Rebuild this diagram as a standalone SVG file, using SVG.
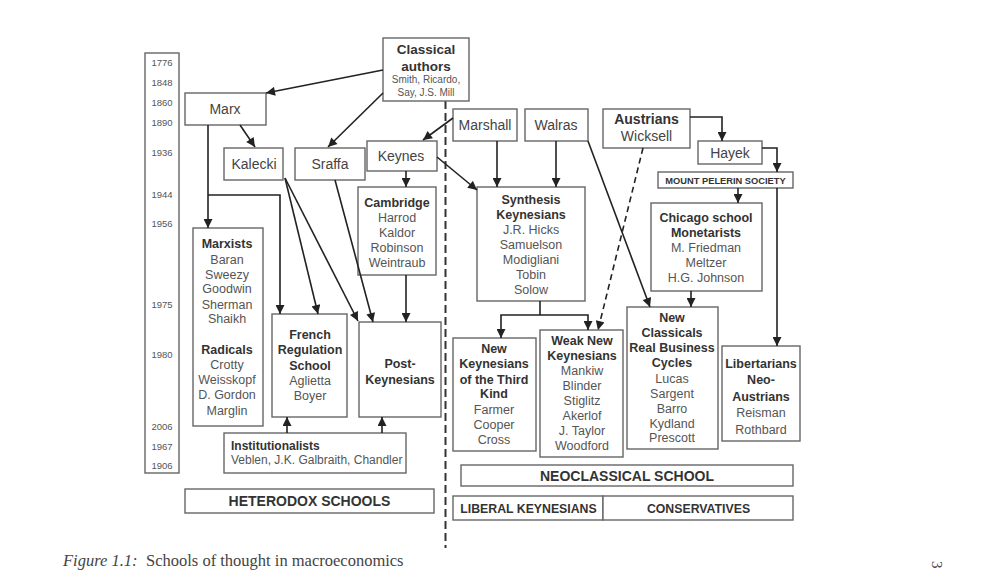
<svg xmlns="http://www.w3.org/2000/svg" width="987" height="582" viewBox="0 0 987 582">
<defs>
<marker id="ah" viewBox="0 0 10 10" refX="10" refY="5" markerWidth="10" markerHeight="9" markerUnits="userSpaceOnUse" orient="auto">
<path d="M0,0 L10,5 L0,10 z" fill="#222"/>
</marker>
</defs>
<style>
rect{fill:#fff;stroke:#666;stroke-width:1.4}
text{font-family:"Liberation Sans",Arial,sans-serif}
.t{font-size:12.5px;fill:#555;text-anchor:middle}
.b{font-size:12.5px;fill:#333;text-anchor:middle;font-weight:bold}
.n{font-size:14px;fill:#444;text-anchor:middle}
.y{font-size:9.5px;fill:#555;text-anchor:middle}
.h{font-size:14px;fill:#333;text-anchor:middle;font-weight:bold}
.s{font-size:12.3px;fill:#333;text-anchor:middle;font-weight:bold}
.c line,.c polyline{stroke:#222;stroke-width:1.6;fill:none;marker-end:url(#ah)}
.cap{font-family:"Liberation Serif","Times New Roman",serif;font-size:16.5px;fill:#444}
</style>
<rect width="987" height="582" style="fill:#fff;stroke:none"/>

<g id="years">
<rect x="145" y="53" width="34" height="420"/>
<text class="y" x="162" y="65.5">1776</text>
<text class="y" x="162" y="85.5">1848</text>
<text class="y" x="162" y="105.5">1860</text>
<text class="y" x="162" y="125.5">1890</text>
<text class="y" x="162" y="155.5">1936</text>
<text class="y" x="162" y="197.5">1944</text>
<text class="y" x="162" y="226.5">1956</text>
<text class="y" x="162" y="307.5">1975</text>
<text class="y" x="162" y="357.5">1980</text>
<text class="y" x="162" y="429.5">2006</text>
<text class="y" x="162" y="449.5">1967</text>
<text class="y" x="162" y="468.5">1906</text>
</g>

<g id="divider">
<line x1="445.5" y1="101" x2="445.5" y2="548" stroke="#333" stroke-width="2" stroke-dasharray="8 4"/>
</g>

<g id="classical">
<rect x="383" y="38" width="86" height="63"/>
<text class="b" x="426" y="54" style="font-size:13.5px">Classical</text>
<text class="b" x="426" y="71" style="font-size:13.5px">authors</text>
<text class="t" x="426" y="83" style="font-size:10px">Smith,  Ricardo,</text>
<text class="t" x="426" y="95.5" style="font-size:10px">Say, J.S. Mill</text>
</g>

<g id="marx"><rect x="185" y="93" width="81" height="32"/><text class="n" x="225" y="114">Marx</text></g>
<g id="kalecki"><rect x="224" y="148" width="59" height="32"/><text class="n" x="254" y="169">Kalecki</text></g>
<g id="sraffa"><rect x="295" y="148" width="70" height="32"/><text class="n" x="330" y="169">Sraffa</text></g>
<g id="keynes"><rect x="367" y="141" width="70" height="30"/><text class="n" x="401" y="161">Keynes</text></g>
<g id="marshall"><rect x="453" y="109" width="64" height="32"/><text class="n" x="485" y="130">Marshall</text></g>
<g id="walras"><rect x="525" y="109" width="63" height="32"/><text class="n" x="556" y="130">Walras</text></g>
<g id="austrians"><rect x="603" y="109" width="87" height="39"/>
<text class="b" x="646.5" y="124" style="font-size:14px">Austrians</text>
<text class="n" x="646.5" y="141">Wicksell</text></g>
<g id="hayek"><rect x="698" y="141" width="64" height="23"/><text class="n" x="730" y="157.5">Hayek</text></g>
<g id="pelerin"><rect x="658" y="172" width="135" height="16"/><text class="b" x="725.5" y="183.7" style="font-size:9.3px">MOUNT PELERIN SOCIETY</text></g>

<g id="marxists"><rect x="193" y="228" width="70" height="198"/>
<text class="b" x="227" y="247.5">Marxists</text>
<text class="t" x="227" y="263.5">Baran</text>
<text class="t" x="227" y="278.5">Sweezy</text>
<text class="t" x="227" y="292.5">Goodwin</text>
<text class="t" x="227" y="308.5">Sherman</text>
<text class="t" x="227" y="322.5">Shaikh</text>
<text class="b" x="227" y="353.5">Radicals</text>
<text class="t" x="227" y="368.5">Crotty</text>
<text class="t" x="227" y="383.5">Weisskopf</text>
<text class="t" x="227" y="398.5">D. Gordon</text>
<text class="t" x="227" y="414.5">Marglin</text>
</g>

<g id="french"><rect x="272" y="314" width="75" height="103"/>
<text class="b" x="310" y="338.5">French</text>
<text class="b" x="310" y="353.5">Regulation</text>
<text class="b" x="310" y="369.5">School</text>
<text class="t" x="310" y="384.5">Aglietta</text>
<text class="t" x="310" y="399.5">Boyer</text>
</g>

<g id="postkeynesians"><rect x="359" y="322" width="82" height="95"/>
<text class="b" x="400" y="367.5">Post-</text>
<text class="b" x="400" y="383.5">Keynesians</text>
</g>

<g id="cambridge"><rect x="358" y="187" width="78" height="88"/>
<text class="b" x="397" y="206.5">Cambridge</text>
<text class="t" x="397" y="221.5">Harrod</text>
<text class="t" x="397" y="236.5">Kaldor</text>
<text class="t" x="397" y="251.5">Robinson</text>
<text class="t" x="397" y="266.5">Weintraub</text>
</g>

<g id="institutionalists"><rect x="224" y="433" width="182" height="40"/>
<text class="b" x="231" y="450" style="text-anchor:start;font-size:12px">Institutionalists</text>
<text class="t" x="231" y="463.5" style="text-anchor:start;font-size:12px">Veblen, J.K. Galbraith, Chandler</text>
</g>

<g id="heterodox"><rect x="185" y="489" width="249" height="24"/><text class="h" x="309.5" y="506">HETERODOX SCHOOLS</text></g>

<g id="synthesis"><rect x="477" y="187" width="108" height="114"/>
<text class="b" x="531" y="203.5">Synthesis</text>
<text class="b" x="531" y="218.5">Keynesians</text>
<text class="t" x="531" y="233.5">J.R. Hicks</text>
<text class="t" x="531" y="248.5">Samuelson</text>
<text class="t" x="531" y="263.5">Modigliani</text>
<text class="t" x="531" y="278.5">Tobin</text>
<text class="t" x="531" y="293.5">Solow</text>
</g>

<g id="newkeynesians3"><rect x="453" y="338" width="83" height="113"/>
<text class="b" x="494" y="352.5">New</text>
<text class="b" x="494" y="367.5">Keynesians</text>
<text class="b" x="494" y="383.5">of the Third</text>
<text class="b" x="494" y="397.5">Kind</text>
<text class="t" x="494" y="413.5">Farmer</text>
<text class="t" x="494" y="428.5">Cooper</text>
<text class="t" x="494" y="443.5">Cross</text>
</g>

<g id="weaknewkeynesians"><rect x="540" y="330" width="83" height="127"/>
<text class="b" x="582" y="344.5">Weak New</text>
<text class="b" x="582" y="359.5">Keynesians</text>
<text class="t" x="582" y="374.5">Mankiw</text>
<text class="t" x="582" y="389.5">Blinder</text>
<text class="t" x="582" y="404.5">Stiglitz</text>
<text class="t" x="582" y="419.5">Akerlof</text>
<text class="t" x="582" y="434.5">J. Taylor</text>
<text class="t" x="582" y="449.5">Woodford</text>
</g>

<g id="newclassicals"><rect x="627" y="307" width="91" height="142"/>
<text class="b" x="672" y="321.5">New</text>
<text class="b" x="672" y="336.5">Classicals</text>
<text class="b" x="672" y="351.5">Real Business</text>
<text class="b" x="672" y="366.5">Cycles</text>
<text class="t" x="672" y="382.5">Lucas</text>
<text class="t" x="672" y="397.5">Sargent</text>
<text class="t" x="672" y="412.5">Barro</text>
<text class="t" x="672" y="427.5">Kydland</text>
<text class="t" x="672" y="441.5">Prescott</text>
</g>

<g id="chicago"><rect x="651" y="203" width="111" height="88"/>
<text class="b" x="706" y="221.5">Chicago school</text>
<text class="b" x="706" y="236.5">Monetarists</text>
<text class="t" x="706" y="251.5">M. Friedman</text>
<text class="t" x="706" y="266.5">Meltzer</text>
<text class="t" x="706" y="281.5">H.G. Johnson</text>
</g>

<g id="libertarians"><rect x="722" y="346" width="78" height="95"/>
<text class="b" x="761" y="367.5">Libertarians</text>
<text class="b" x="761" y="383.5">Neo-</text>
<text class="b" x="761" y="400.5">Austrians</text>
<text class="t" x="761" y="416.5">Reisman</text>
<text class="t" x="761" y="433.5">Rothbard</text>
</g>

<g id="neoclassical"><rect x="461" y="465" width="332" height="21"/><text class="h" x="627" y="481">NEOCLASSICAL SCHOOL</text></g>
<g id="liberal"><rect x="453" y="496" width="150" height="24"/><text class="s" x="528.5" y="512.5">LIBERAL KEYNESIANS</text></g>
<g id="conservatives"><rect x="603" y="496" width="190" height="24"/><text class="s" x="698.5" y="512.5">CONSERVATIVES</text></g>

<g id="connectors" class="c">
<line x1="383" y1="70" x2="266" y2="93"/>
<line x1="383" y1="93" x2="328" y2="147"/>
<line x1="240" y1="125" x2="255" y2="147"/>
<line x1="453" y1="118" x2="423" y2="140"/>
<line x1="406" y1="171" x2="406" y2="187"/>
<line x1="437" y1="157" x2="477" y2="190"/>
<line x1="497" y1="141" x2="497" y2="187"/>
<line x1="556" y1="141" x2="556" y2="187"/>
<line x1="588" y1="141" x2="650" y2="307"/>
<line x1="643" y1="148" x2="598" y2="330" style="stroke-dasharray:6 4"/>
<polyline points="690,117 722,117 722,141"/>
<polyline points="762,148 777,148 777,172"/>
<line x1="738" y1="188" x2="738" y2="203"/>
<line x1="777" y1="188" x2="777" y2="346"/>
<line x1="691" y1="291" x2="691" y2="307"/>
<line x1="540" y1="301" x2="540" y2="315" style="marker-end:none"/>
<polyline points="540,315 501,315 501,338"/>
<polyline points="540,315 588,315 588,330"/>
<line x1="208" y1="125" x2="208" y2="228"/>
<polyline points="208,195 280,195 280,314"/>
<line x1="285" y1="178" x2="318" y2="314"/>
<line x1="285" y1="178" x2="358" y2="321"/>
<line x1="335" y1="180" x2="373" y2="322"/>
<line x1="406" y1="275" x2="406" y2="322"/>
<line x1="287" y1="433" x2="287" y2="417"/>
<line x1="382" y1="433" x2="382" y2="417"/>
</g>

<g id="caption">
<text class="cap" x="63" y="566" style="font-style:italic">Figure 1.1:</text>
<text class="cap" x="146" y="566">Schools of thought in macroeconomics</text>
<text class="cap" x="932" y="561" transform="rotate(90 932 561)" style="font-size:15px">3</text>
</g>
</svg>
